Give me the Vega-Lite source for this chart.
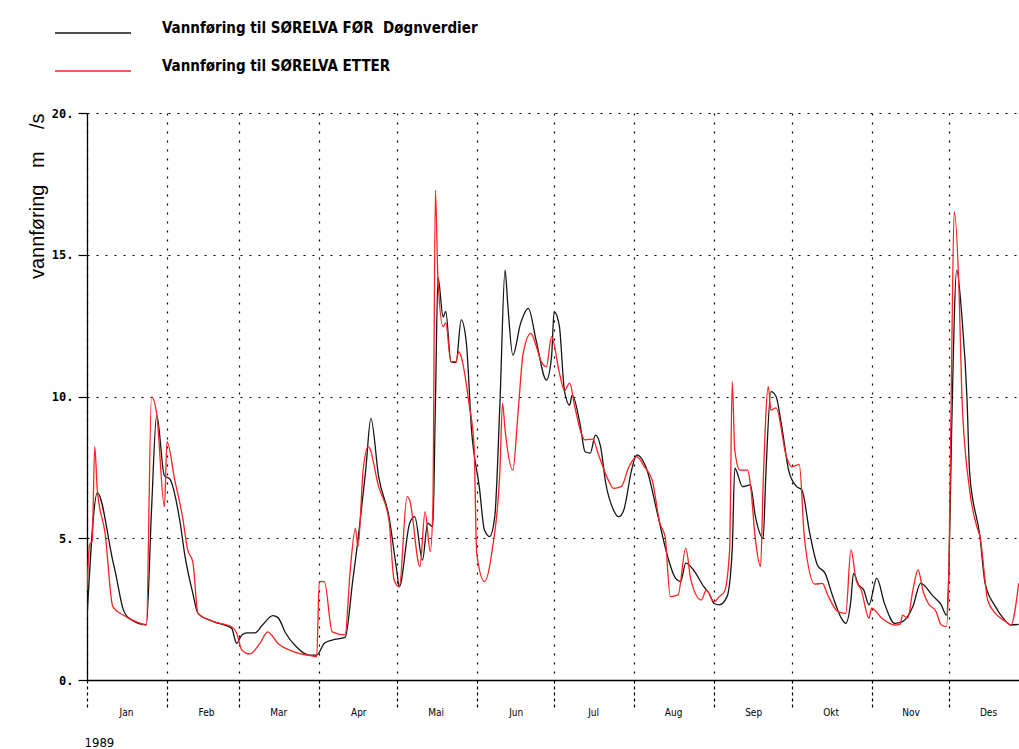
{
  "$schema": "https://vega.github.io/schema/vega-lite/v6.json",
  "width": 932,
  "height": 567,
  "autosize": {"type": "none"},
  "padding": {"left": 87, "top": 113, "right": 0, "bottom": 69},
  "background": "white",
  "config": {"view": {"stroke": null}, "font": "Liberation Sans"},
  "data": {"values": [
    {"d":"1989-01-01","s":"FØR","v":2.2},{"d":"1989-01-05","s":"FØR","v":6.6},{"d":"1989-01-11","s":"FØR","v":4.2},{"d":"1989-01-12","s":"FØR","v":3.8},{"d":"1989-01-15","s":"FØR","v":2.5},{"d":"1989-01-17","s":"FØR","v":2.2},{"d":"1989-01-24","s":"FØR","v":1.95},{"d":"1989-01-26","s":"FØR","v":6.0},{"d":"1989-01-28","s":"FØR","v":9.35},{"d":"1989-01-31","s":"FØR","v":7.2},
    {"d":"1989-02-02","s":"FØR","v":7.1},{"d":"1989-02-06","s":"FØR","v":5.6},{"d":"1989-02-08","s":"FØR","v":4.35},{"d":"1989-02-11","s":"FØR","v":3.06},{"d":"1989-02-13","s":"FØR","v":2.35},{"d":"1989-02-19","s":"FØR","v":2.06},{"d":"1989-02-26","s":"FØR","v":1.83},{"d":"1989-02-28","s":"FØR","v":1.29},
    {"d":"1989-03-02","s":"FØR","v":1.59},{"d":"1989-03-04","s":"FØR","v":1.66},{"d":"1989-03-07","s":"FØR","v":1.66},{"d":"1989-03-10","s":"FØR","v":1.94},{"d":"1989-03-14","s":"FØR","v":2.27},{"d":"1989-03-16","s":"FØR","v":2.2},{"d":"1989-03-19","s":"FØR","v":1.65},{"d":"1989-03-23","s":"FØR","v":1.18},{"d":"1989-03-28","s":"FØR","v":0.88},{"d":"1989-03-31","s":"FØR","v":0.88},
    {"d":"1989-04-03","s":"FØR","v":1.3},{"d":"1989-04-06","s":"FØR","v":1.41},{"d":"1989-04-11","s":"FØR","v":1.5},{"d":"1989-04-14","s":"FØR","v":3.53},{"d":"1989-04-16","s":"FØR","v":4.94},{"d":"1989-04-19","s":"FØR","v":7.4},{"d":"1989-04-21","s":"FØR","v":9.23},{"d":"1989-04-24","s":"FØR","v":7.17},{"d":"1989-04-28","s":"FØR","v":5.76},
    {"d":"1989-05-01","s":"FØR","v":3.88},{"d":"1989-05-02","s":"FØR","v":3.29},{"d":"1989-05-06","s":"FØR","v":5.52},{"d":"1989-05-08","s":"FØR","v":5.76},{"d":"1989-05-11","s":"FØR","v":4.23},{"d":"1989-05-13","s":"FØR","v":5.53},{"d":"1989-05-15","s":"FØR","v":5.41},{"d":"1989-05-16","s":"FØR","v":9.76},{"d":"1989-05-17","s":"FØR","v":14.2},{"d":"1989-05-19","s":"FØR","v":12.8},{"d":"1989-05-20","s":"FØR","v":13.0},{"d":"1989-05-22","s":"FØR","v":11.23},{"d":"1989-05-24","s":"FØR","v":11.2},{"d":"1989-05-26","s":"FØR","v":12.7},{"d":"1989-05-28","s":"FØR","v":11.88},{"d":"1989-05-30","s":"FØR","v":8.82},
    {"d":"1989-06-02","s":"FØR","v":6.82},{"d":"1989-06-04","s":"FØR","v":5.29},{"d":"1989-06-06","s":"FØR","v":5.06},{"d":"1989-06-08","s":"FØR","v":5.76},{"d":"1989-06-10","s":"FØR","v":9.76},{"d":"1989-06-12","s":"FØR","v":14.46},{"d":"1989-06-13","s":"FØR","v":13.29},{"d":"1989-06-15","s":"FØR","v":11.46},{"d":"1989-06-18","s":"FØR","v":12.58},{"d":"1989-06-21","s":"FØR","v":13.11},{"d":"1989-06-24","s":"FØR","v":11.99},{"d":"1989-06-28","s":"FØR","v":10.58},{"d":"1989-06-30","s":"FØR","v":11.4},
    {"d":"1989-07-01","s":"FØR","v":12.99},{"d":"1989-07-03","s":"FØR","v":12.5},{"d":"1989-07-05","s":"FØR","v":10.2},{"d":"1989-07-07","s":"FØR","v":9.7},{"d":"1989-07-08","s":"FØR","v":10.05},{"d":"1989-07-11","s":"FØR","v":9.05},{"d":"1989-07-13","s":"FØR","v":8.05},{"d":"1989-07-15","s":"FØR","v":8.0},{"d":"1989-07-17","s":"FØR","v":8.64},{"d":"1989-07-19","s":"FØR","v":8.23},{"d":"1989-07-21","s":"FØR","v":6.94},{"d":"1989-07-24","s":"FØR","v":6.0},{"d":"1989-07-26","s":"FØR","v":5.76},{"d":"1989-07-28","s":"FØR","v":6.0},{"d":"1989-07-31","s":"FØR","v":7.4},
    {"d":"1989-08-02","s":"FØR","v":7.94},{"d":"1989-08-06","s":"FØR","v":7.4},{"d":"1989-08-10","s":"FØR","v":5.88},{"d":"1989-08-14","s":"FØR","v":4.35},{"d":"1989-08-17","s":"FØR","v":3.59},{"d":"1989-08-19","s":"FØR","v":3.47},{"d":"1989-08-21","s":"FØR","v":4.12},{"d":"1989-08-24","s":"FØR","v":3.88},{"d":"1989-08-28","s":"FØR","v":3.29},{"d":"1989-08-30","s":"FØR","v":3.06},
    {"d":"1989-09-01","s":"FØR","v":2.7},{"d":"1989-09-03","s":"FØR","v":2.65},{"d":"1989-09-06","s":"FØR","v":2.94},{"d":"1989-09-08","s":"FØR","v":4.59},{"d":"1989-09-09","s":"FØR","v":7.47},{"d":"1989-09-12","s":"FØR","v":6.82},{"d":"1989-09-15","s":"FØR","v":6.88},{"d":"1989-09-17","s":"FØR","v":5.76},{"d":"1989-09-20","s":"FØR","v":5.0},{"d":"1989-09-21","s":"FØR","v":7.17},{"d":"1989-09-23","s":"FØR","v":10.17},{"d":"1989-09-25","s":"FØR","v":10.0},{"d":"1989-09-27","s":"FØR","v":9.05},{"d":"1989-09-30","s":"FØR","v":7.35},
    {"d":"1989-10-03","s":"FØR","v":6.82},{"d":"1989-10-05","s":"FØR","v":6.7},{"d":"1989-10-08","s":"FØR","v":5.2},{"d":"1989-10-11","s":"FØR","v":4.06},{"d":"1989-10-14","s":"FØR","v":3.76},{"d":"1989-10-17","s":"FØR","v":2.94},{"d":"1989-10-20","s":"FØR","v":2.23},{"d":"1989-10-22","s":"FØR","v":2.0},{"d":"1989-10-24","s":"FØR","v":2.82},{"d":"1989-10-25","s":"FØR","v":3.76},{"d":"1989-10-27","s":"FØR","v":3.35},{"d":"1989-10-29","s":"FØR","v":3.17},{"d":"1989-10-31","s":"FØR","v":2.65},
    {"d":"1989-11-03","s":"FØR","v":3.59},{"d":"1989-11-06","s":"FØR","v":2.7},{"d":"1989-11-10","s":"FØR","v":2.0},{"d":"1989-11-13","s":"FØR","v":2.06},{"d":"1989-11-17","s":"FØR","v":2.59},{"d":"1989-11-20","s":"FØR","v":3.41},{"d":"1989-11-25","s":"FØR","v":2.94},{"d":"1989-11-28","s":"FØR","v":2.65},{"d":"1989-11-30","s":"FØR","v":2.29},
    {"d":"1989-12-01","s":"FØR","v":4.0},{"d":"1989-12-02","s":"FØR","v":8.7},{"d":"1989-12-04","s":"FØR","v":14.46},{"d":"1989-12-06","s":"FØR","v":12.82},{"d":"1989-12-08","s":"FØR","v":9.88},{"d":"1989-12-09","s":"FØR","v":7.29},{"d":"1989-12-13","s":"FØR","v":5.06},{"d":"1989-12-15","s":"FØR","v":3.41},{"d":"1989-12-19","s":"FØR","v":2.59},{"d":"1989-12-22","s":"FØR","v":2.18},{"d":"1989-12-25","s":"FØR","v":1.94},{"d":"1989-12-28","s":"FØR","v":1.96},
    {"d":"1989-01-01","s":"ETTER","v":3.17},{"d":"1989-01-02","s":"ETTER","v":4.76},{"d":"1989-01-03","s":"ETTER","v":4.9},{"d":"1989-01-04","s":"ETTER","v":8.23},{"d":"1989-01-05","s":"ETTER","v":6.7},{"d":"1989-01-08","s":"ETTER","v":5.18},{"d":"1989-01-11","s":"ETTER","v":2.59},{"d":"1989-01-15","s":"ETTER","v":2.29},{"d":"1989-01-20","s":"ETTER","v":2.06},{"d":"1989-01-24","s":"ETTER","v":1.94},{"d":"1989-01-26","s":"ETTER","v":9.99},{"d":"1989-01-28","s":"ETTER","v":9.4},{"d":"1989-01-31","s":"ETTER","v":6.11},
    {"d":"1989-02-01","s":"ETTER","v":8.41},{"d":"1989-02-04","s":"ETTER","v":7.05},{"d":"1989-02-07","s":"ETTER","v":5.76},{"d":"1989-02-09","s":"ETTER","v":4.59},{"d":"1989-02-11","s":"ETTER","v":4.17},{"d":"1989-02-13","s":"ETTER","v":2.35},{"d":"1989-02-19","s":"ETTER","v":2.06},{"d":"1989-02-26","s":"ETTER","v":1.88},{"d":"1989-02-28","s":"ETTER","v":1.65},
    {"d":"1989-03-02","s":"ETTER","v":1.06},{"d":"1989-03-05","s":"ETTER","v":0.92},{"d":"1989-03-09","s":"ETTER","v":1.29},{"d":"1989-03-12","s":"ETTER","v":1.7},{"d":"1989-03-16","s":"ETTER","v":1.29},{"d":"1989-03-22","s":"ETTER","v":1.0},{"d":"1989-03-29","s":"ETTER","v":0.85},{"d":"1989-03-31","s":"ETTER","v":0.82},
    {"d":"1989-04-01","s":"ETTER","v":3.47},{"d":"1989-04-03","s":"ETTER","v":3.47},{"d":"1989-04-06","s":"ETTER","v":1.7},{"d":"1989-04-11","s":"ETTER","v":1.59},{"d":"1989-04-13","s":"ETTER","v":3.88},{"d":"1989-04-15","s":"ETTER","v":5.35},{"d":"1989-04-16","s":"ETTER","v":4.7},{"d":"1989-04-18","s":"ETTER","v":7.4},{"d":"1989-04-20","s":"ETTER","v":8.23},{"d":"1989-04-24","s":"ETTER","v":6.82},{"d":"1989-04-28","s":"ETTER","v":5.64},{"d":"1989-04-30","s":"ETTER","v":3.53},
    {"d":"1989-05-02","s":"ETTER","v":3.29},{"d":"1989-05-05","s":"ETTER","v":6.47},{"d":"1989-05-06","s":"ETTER","v":6.35},{"d":"1989-05-10","s":"ETTER","v":4.0},{"d":"1989-05-12","s":"ETTER","v":5.94},{"d":"1989-05-14","s":"ETTER","v":4.53},{"d":"1989-05-15","s":"ETTER","v":6.0},{"d":"1989-05-16","s":"ETTER","v":17.28},{"d":"1989-05-17","s":"ETTER","v":14.1},{"d":"1989-05-19","s":"ETTER","v":12.46},{"d":"1989-05-20","s":"ETTER","v":12.6},{"d":"1989-05-22","s":"ETTER","v":11.23},{"d":"1989-05-24","s":"ETTER","v":11.23},{"d":"1989-05-25","s":"ETTER","v":11.58},{"d":"1989-05-26","s":"ETTER","v":11.4},{"d":"1989-05-29","s":"ETTER","v":9.76},{"d":"1989-05-31","s":"ETTER","v":8.23},
    {"d":"1989-06-01","s":"ETTER","v":4.47},{"d":"1989-06-04","s":"ETTER","v":3.47},{"d":"1989-06-07","s":"ETTER","v":4.59},{"d":"1989-06-10","s":"ETTER","v":7.4},{"d":"1989-06-11","s":"ETTER","v":9.76},{"d":"1989-06-12","s":"ETTER","v":8.82},{"d":"1989-06-15","s":"ETTER","v":7.4},{"d":"1989-06-17","s":"ETTER","v":9.4},{"d":"1989-06-19","s":"ETTER","v":11.52},{"d":"1989-06-22","s":"ETTER","v":12.23},{"d":"1989-06-24","s":"ETTER","v":11.8},{"d":"1989-06-26","s":"ETTER","v":11.23},{"d":"1989-06-28","s":"ETTER","v":11.05},{"d":"1989-06-30","s":"ETTER","v":12.11},
    {"d":"1989-07-03","s":"ETTER","v":10.85},{"d":"1989-07-05","s":"ETTER","v":10.2},{"d":"1989-07-07","s":"ETTER","v":10.47},{"d":"1989-07-09","s":"ETTER","v":9.64},{"d":"1989-07-12","s":"ETTER","v":8.58},{"d":"1989-07-13","s":"ETTER","v":8.47},{"d":"1989-07-16","s":"ETTER","v":8.5},{"d":"1989-07-18","s":"ETTER","v":8.0},{"d":"1989-07-22","s":"ETTER","v":7.05},{"d":"1989-07-24","s":"ETTER","v":6.76},{"d":"1989-07-27","s":"ETTER","v":6.82},{"d":"1989-07-30","s":"ETTER","v":7.52},
    {"d":"1989-08-02","s":"ETTER","v":7.88},{"d":"1989-08-05","s":"ETTER","v":7.52},{"d":"1989-08-08","s":"ETTER","v":7.05},{"d":"1989-08-11","s":"ETTER","v":5.52},{"d":"1989-08-13","s":"ETTER","v":5.06},{"d":"1989-08-15","s":"ETTER","v":2.94},{"d":"1989-08-18","s":"ETTER","v":3.0},{"d":"1989-08-21","s":"ETTER","v":4.64},{"d":"1989-08-23","s":"ETTER","v":3.53},{"d":"1989-08-27","s":"ETTER","v":2.82},{"d":"1989-08-29","s":"ETTER","v":3.17},
    {"d":"1989-09-01","s":"ETTER","v":2.76},{"d":"1989-09-03","s":"ETTER","v":2.94},{"d":"1989-09-05","s":"ETTER","v":3.12},{"d":"1989-09-07","s":"ETTER","v":4.59},{"d":"1989-09-08","s":"ETTER","v":10.52},{"d":"1989-09-09","s":"ETTER","v":8.11},{"d":"1989-09-11","s":"ETTER","v":7.4},{"d":"1989-09-14","s":"ETTER","v":7.4},{"d":"1989-09-15","s":"ETTER","v":6.94},{"d":"1989-09-17","s":"ETTER","v":4.94},{"d":"1989-09-19","s":"ETTER","v":4.0},{"d":"1989-09-20","s":"ETTER","v":6.94},{"d":"1989-09-22","s":"ETTER","v":10.35},{"d":"1989-09-23","s":"ETTER","v":9.52},{"d":"1989-09-25","s":"ETTER","v":9.6},{"d":"1989-09-29","s":"ETTER","v":7.88},
    {"d":"1989-10-01","s":"ETTER","v":7.52},{"d":"1989-10-04","s":"ETTER","v":7.6},{"d":"1989-10-06","s":"ETTER","v":5.0},{"d":"1989-10-10","s":"ETTER","v":3.38},{"d":"1989-10-13","s":"ETTER","v":3.41},{"d":"1989-10-15","s":"ETTER","v":3.0},{"d":"1989-10-19","s":"ETTER","v":2.41},{"d":"1989-10-22","s":"ETTER","v":2.35},{"d":"1989-10-24","s":"ETTER","v":4.59},{"d":"1989-10-26","s":"ETTER","v":3.53},{"d":"1989-10-28","s":"ETTER","v":3.17},{"d":"1989-10-31","s":"ETTER","v":2.18},
    {"d":"1989-11-01","s":"ETTER","v":2.53},{"d":"1989-11-05","s":"ETTER","v":2.18},{"d":"1989-11-10","s":"ETTER","v":1.94},{"d":"1989-11-12","s":"ETTER","v":1.96},{"d":"1989-11-13","s":"ETTER","v":2.29},{"d":"1989-11-15","s":"ETTER","v":2.18},{"d":"1989-11-17","s":"ETTER","v":3.17},{"d":"1989-11-19","s":"ETTER","v":3.88},{"d":"1989-11-21","s":"ETTER","v":3.12},{"d":"1989-11-23","s":"ETTER","v":2.7},{"d":"1989-11-26","s":"ETTER","v":2.41},{"d":"1989-11-28","s":"ETTER","v":1.94},{"d":"1989-11-30","s":"ETTER","v":1.88},
    {"d":"1989-12-01","s":"ETTER","v":4.0},{"d":"1989-12-02","s":"ETTER","v":11.05},{"d":"1989-12-03","s":"ETTER","v":16.52},{"d":"1989-12-05","s":"ETTER","v":13.4},{"d":"1989-12-06","s":"ETTER","v":10.0},{"d":"1989-12-09","s":"ETTER","v":6.7},{"d":"1989-12-12","s":"ETTER","v":5.35},{"d":"1989-12-13","s":"ETTER","v":5.06},{"d":"1989-12-16","s":"ETTER","v":2.82},{"d":"1989-12-19","s":"ETTER","v":2.35},{"d":"1989-12-23","s":"ETTER","v":2.06},{"d":"1989-12-25","s":"ETTER","v":1.94},{"d":"1989-12-28","s":"ETTER","v":3.41}
  ]},
  "mark": {"type": "line", "strokeWidth": 1.3, "clip": true, "interpolate": "monotone"},
  "encoding": {
    "x": {
      "field": "d", "type": "temporal",
      "scale": {"type": "utc", "domain": [{"year": 1989, "month": 1, "date": 1, "utc": true}, {"year": 1989, "month": 12, "date": 28, "hours": 3, "utc": true}]},
      "axis": {
        "values": [
          {"year": 1989, "month": 1, "date": 1, "utc": true},{"year": 1989, "month": 2, "date": 1, "utc": true},{"year": 1989, "month": 3, "date": 1, "utc": true},{"year": 1989, "month": 4, "date": 1, "utc": true},
          {"year": 1989, "month": 5, "date": 1, "utc": true},{"year": 1989, "month": 6, "date": 1, "utc": true},{"year": 1989, "month": 7, "date": 1, "utc": true},{"year": 1989, "month": 8, "date": 1, "utc": true},
          {"year": 1989, "month": 9, "date": 1, "utc": true},{"year": 1989, "month": 10, "date": 1, "utc": true},{"year": 1989, "month": 11, "date": 1, "utc": true},{"year": 1989, "month": 12, "date": 1, "utc": true}
        ],
        "grid": true, "gridDash": [2, 7], "gridColor": "#000", "gridWidth": 1.2, "gridOpacity": 1,
        "tickSize": 30, "tickDash": [3, 3], "tickColor": "#000", "tickWidth": 1.2,
        "domainColor": "#000", "domainWidth": 1.3,
        "labelExpr": "['Jan','Feb','Mar','Apr','Mai','Jun','Jul','Aug','Sep','Okt','Nov','Des'][utcmonth(datum.value)]",
        "labelOffset": 39, "labelPadding": -3, "labelFlush": false, "labelOverlap": false, "labelBound": false,
        "labelFont": "DejaVu Sans Condensed", "labelFontSize": 10, "labelColor": "#000",
        "title": "1989", "titleAnchor": "start", "titleAlign": "left", "titleX": -3, "titleY": 62, "titleBaseline": "middle",
        "titleFont": "DejaVu Sans Condensed", "titleFontSize": 13, "titleFontWeight": "normal", "titleColor": "#000"
      }
    },
    "y": {
      "field": "v", "type": "quantitative",
      "scale": {"domain": [0, 20], "nice": false},
      "axis": {
        "values": [0, 5, 10, 15, 20],
        "grid": true, "gridDash": [2, 7], "gridColor": "#000", "gridWidth": 1.2, "gridOpacity": 1,
        "tickSize": 9, "tickColor": "#000", "tickWidth": 1.2,
        "domainColor": "#000", "domainWidth": 1.3,
        "labelExpr": "datum.value + '.'",
        "labelFont": "DejaVu Sans Mono", "labelFontSize": 12, "labelFontWeight": "bold", "labelColor": "#000", "labelPadding": 5,
        "title": "vannføring\u00a0\u00a0\u00a0m\u00a0\u00a0\u00a0\u00a0/s",
        "titleFont": "Liberation Sans", "titleFontSize": 20, "titleFontWeight": "normal", "titleColor": "#000",
        "titleAngle": -90, "titleX": -50, "titleY": 0, "titleAlign": "right", "titleBaseline": "middle"
      }
    },
    "color": {
      "field": "s", "type": "nominal",
      "scale": {"domain": ["FØR", "ETTER"], "range": ["#151515", "#ff2020"]},
      "legend": {
        "orient": "none", "legendX": -33, "legendY": -90, "direction": "vertical",
        "title": null, "padding": 0,
        "symbolType": "stroke", "symbolSize": 5776, "symbolStrokeWidth": 1.5,
        "clipHeight": 20, "rowPadding": 16, "labelOffset": 30, "labelLimit": 0,
        "labelFont": "DejaVu Sans Condensed", "labelFontSize": 15, "labelFontWeight": "bold", "labelColor": "#000", "labelBaseline": "alphabetic",
        "labelExpr": "datum.label == 'FØR' ? 'Vannføring til SØRELVA FØR\u00a0\u00a0Døgnverdier' : 'Vannføring til SØRELVA ETTER'"
      }
    }
  }
}
